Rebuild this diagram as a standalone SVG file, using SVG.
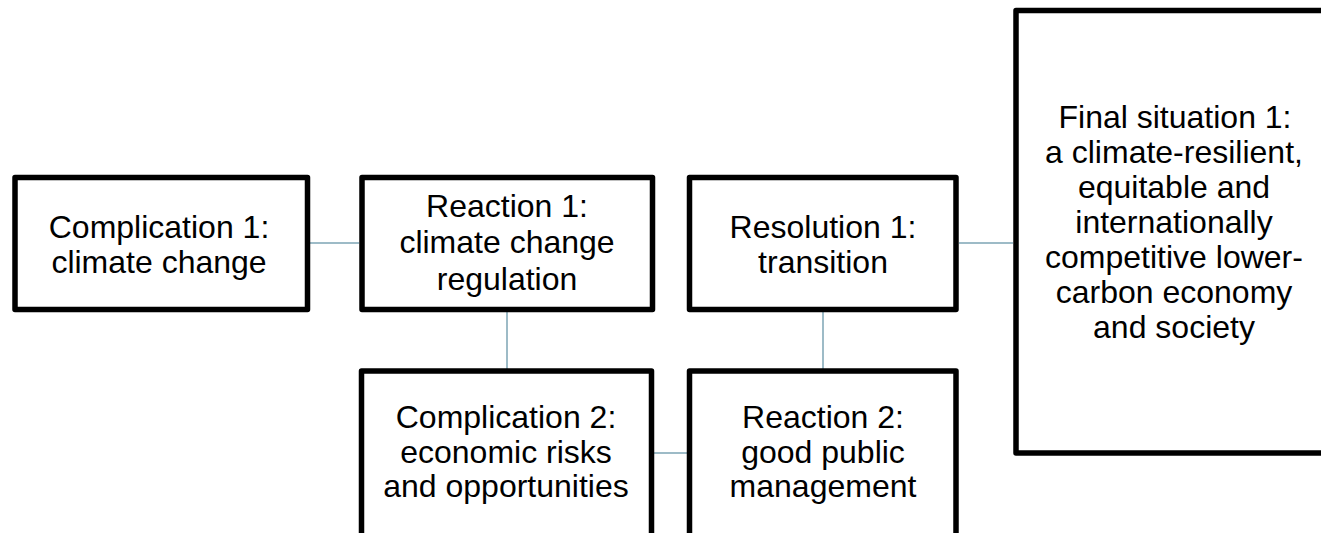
<svg xmlns="http://www.w3.org/2000/svg" width="1321" height="533" viewBox="0 0 1321 533">
  <style>
    .box { fill: #ffffff; stroke: #000000; stroke-width: 5.5; stroke-linejoin: round; }
    .lbl { font-family: "Liberation Sans", Arial, sans-serif; font-size: 32px; fill: #000000; text-anchor: middle; }
    .link { stroke: #9dbbc7; stroke-width: 2; fill: none; }
  </style>
  <rect width="1321" height="533" fill="#ffffff"/>

  <!-- connectors -->
  <g id="connectors">
    <line class="link" x1="310" y1="243" x2="359" y2="243"/>
    <line class="link" x1="507" y1="312" x2="507" y2="369"/>
    <line class="link" x1="654" y1="453" x2="687" y2="453"/>
    <line class="link" x1="823" y1="312" x2="823" y2="369"/>
    <line class="link" x1="959" y1="243" x2="1013" y2="243"/>
  </g>

  <g id="complication1">
    <rect class="box" x="15" y="177.5" width="292.5" height="132"/>
    <text class="lbl" x="159" y="238">Complication 1:</text>
    <text class="lbl" x="159" y="273">climate change</text>
  </g>

  <g id="reaction1">
    <rect class="box" x="362" y="177.5" width="290.5" height="132"/>
    <text class="lbl" x="507" y="217">Reaction 1:</text>
    <text class="lbl" x="507" y="253">climate change</text>
    <text class="lbl" x="507" y="290">regulation</text>
  </g>

  <g id="resolution1">
    <rect class="box" x="689.5" y="177.5" width="266.5" height="132"/>
    <text class="lbl" x="823" y="238">Resolution 1:</text>
    <text class="lbl" x="823" y="273">transition</text>
  </g>

  <g id="complication2">
    <rect class="box" x="361.5" y="371" width="290" height="200"/>
    <text class="lbl" x="506" y="428">Complication 2:</text>
    <text class="lbl" x="506" y="463">economic risks</text>
    <text class="lbl" x="506" y="497">and opportunities</text>
  </g>

  <g id="reaction2">
    <rect class="box" x="689.5" y="371" width="266.5" height="200"/>
    <text class="lbl" x="823" y="428">Reaction 2:</text>
    <text class="lbl" x="823" y="463">good public</text>
    <text class="lbl" x="823" y="497">management</text>
  </g>

  <g id="final1">
    <rect class="box" x="1016" y="10.5" width="330" height="442.5"/>
    <text class="lbl" x="1175" y="128">Final situation 1:</text>
    <text class="lbl" x="1174" y="163">a climate-resilient,</text>
    <text class="lbl" x="1174" y="198">equitable and</text>
    <text class="lbl" x="1174" y="233">internationally</text>
    <text class="lbl" x="1174" y="268">competitive lower-</text>
    <text class="lbl" x="1174" y="303">carbon economy</text>
    <text class="lbl" x="1174" y="338">and society</text>
  </g>
</svg>
